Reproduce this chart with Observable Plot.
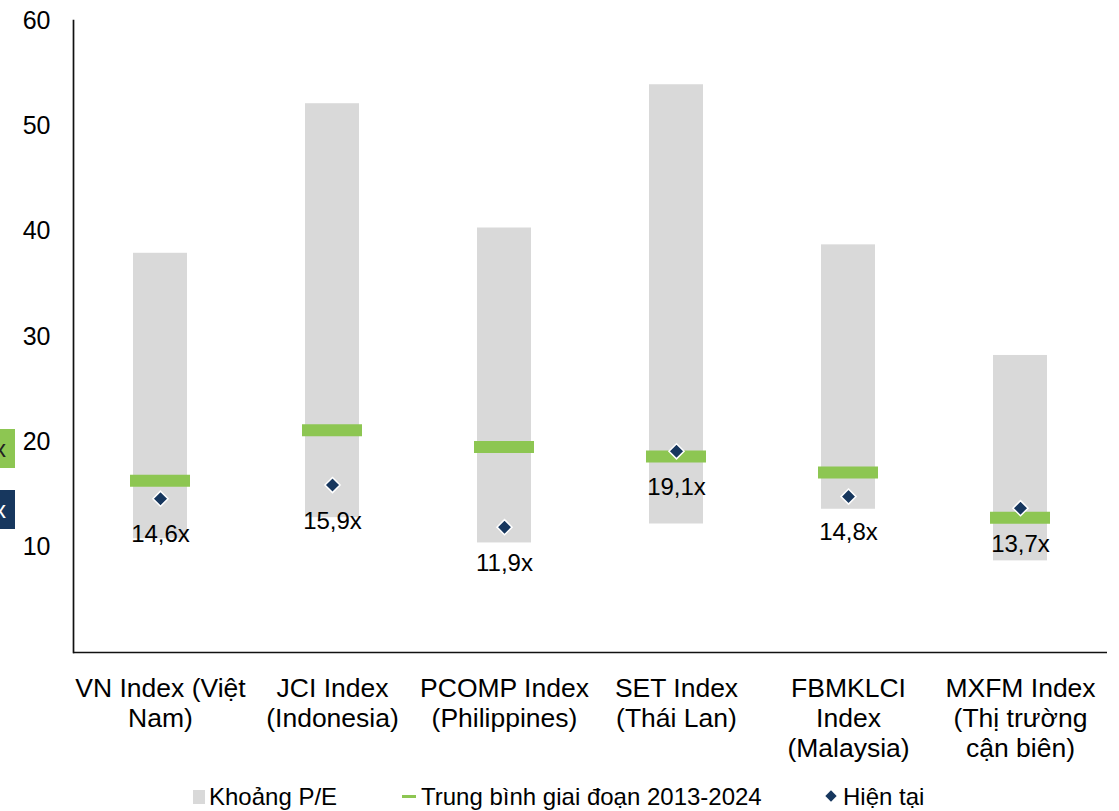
<!DOCTYPE html>
<html>
<head>
<meta charset="utf-8">
<script src="https://cdn.jsdelivr.net/npm/d3@7"></script>
<script src="https://cdn.jsdelivr.net/npm/@observablehq/plot@0.6"></script>
<style>
  html, body { margin: 0; padding: 0; background: #fff; }
  body { width: 1119px; height: 811px; position: relative; overflow: hidden; font-family: "Liberation Sans", Arial, sans-serif; }
  #chart svg { display: block; }
  .lg { position: absolute; font-size: 24px; line-height: 24px; color: #000; white-space: nowrap; }
  .edge { position: absolute; left: 0; width: 15px; height: 39px; font-size: 24px; line-height: 39px; overflow: hidden; }
  .edge span { position: absolute; right: 9px; }
</style>
</head>
<body>
<div id="chart"></div>
<div id="legend" style="position:relative;width:1119px;height:36px;">
  <div style="position:absolute;left:193px;top:15px;width:12px;height:14px;background:#d9d9d9;"></div>
  <div class="lg" style="left:209px;top:10px;">Khoảng P/E</div>
  <div style="position:absolute;left:402px;top:20px;width:14px;height:3px;background:#8dc652;"></div>
  <div class="lg" style="left:421px;top:10px;">Trung bình giai đoạn 2013-2024</div>
  <div style="position:absolute;left:827px;top:17px;width:8px;height:8px;background:#17375e;transform:rotate(45deg);"></div>
  <div class="lg" style="left:843px;top:10px;">Hiện tại</div>
</div>
<div class="edge" style="top:429px;background:#8dc652;color:#222;"><span>x</span></div>
<div class="edge" style="top:490px;background:#17375e;color:#fff;"><span>x</span></div>
<script>
const categories = [
  "VN Index (Việt\nNam)",
  "JCI Index\n(Indonesia)",
  "PCOMP Index\n(Philippines)",
  "SET Index\n(Thái Lan)",
  "FBMKLCI\nIndex\n(Malaysia)",
  "MXFM Index\n(Thị trường\ncận biên)"
];
const peLow  = [10.8, 12.8, 10.4, 12.2, 13.6, 8.7];
const peHigh = [37.9, 52.1, 40.3, 53.9, 38.7, 28.2];
const peAvg  = [16.3, 21.1, 19.5, 18.6, 17.1, 12.8];
const peNow  = [14.6, 15.9, 11.9, 19.1, 14.8, 13.7];
const yTicks = [10, 20, 30, 40, 50, 60];

const data = categories.map((name, i) => ({
  name, lo: peLow[i], hi: peHigh[i], avg: peAvg[i], cur: peNow[i]
}));

const fmt = v => v.toFixed(1).replace(".", ",") + "x";

const chart = Plot.plot({
  width: 1119,
  height: 775,
  marginLeft: 73,
  marginRight: 12,
  marginTop: 20,
  marginBottom: 123,
  style: { fontFamily: "'Liberation Sans', Arial, sans-serif", color: "#000", background: "#fff" },
  x: { type: "band", domain: categories, paddingInner: 0.686, paddingOuter: 0.343, axis: null },
  y: { domain: [0, 60], axis: null },
  marks: [
    Plot.barY(data, { x: "name", y1: "lo", y2: "hi", fill: "#d9d9d9" }),
    Plot.tickY(data, { x: "name", y: "avg", stroke: "#8dc652", strokeWidth: 12, insetLeft: -3, insetRight: -3 }),
    Plot.dot(data, { x: "name", y: "cur", symbol: "diamond2", r: 6.8, fill: "#17375e", stroke: "#fff", strokeWidth: 1.5 }),
    Plot.text(data, { x: "name", y: "cur", text: d => fmt(d.cur), dy: 36, fontSize: 24, fill: "#000" }),
    Plot.axisY({ ticks: yTicks, tickSize: 0, tickPadding: 23, fontSize: 25, tickFormat: d => String(d) }),
    Plot.text(categories, { x: d => d, text: d => d, frameAnchor: "bottom", lineAnchor: "top", dy: 23, fontSize: 26.5, lineHeight: 1.13, fill: "#000" }),
    Plot.ruleY([0], { stroke: "#111", strokeWidth: 1.7 }),
    Plot.frame({ anchor: "left", stroke: "#111", strokeWidth: 1.7 })
  ]
});
document.getElementById("chart").appendChild(chart);
</script>
</body>
</html>
